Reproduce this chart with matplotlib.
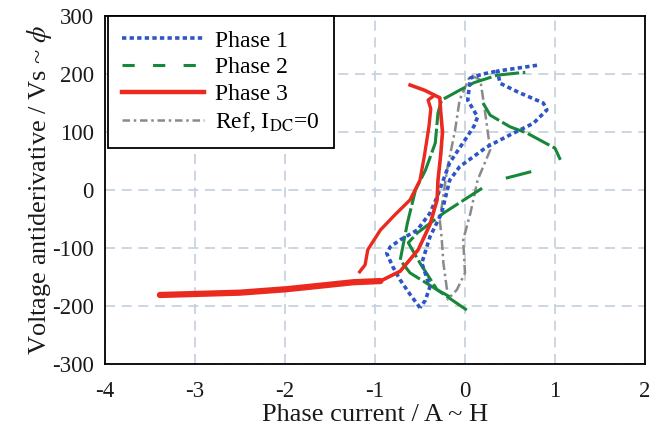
import matplotlib.pyplot as plt
from matplotlib.lines import Line2D

plt.rcParams['font.family'] = ['Liberation Serif', 'DejaVu Serif']
plt.rcParams['mathtext.fontset'] = 'stix'
plt.rcParams['axes.unicode_minus'] = False

# Phase 1 (blue, dotted) - two strands of the loop
p1_a_x = [0.8, 0.58, 0.36, 0.39, 0.6, 0.87, 0.91, 0.76, 0.5, 0.24, -0.06, -0.17, -0.26, -0.39, -0.48, -0.39, -0.44, -0.5]
p1_a_y = [215, 210, 205, 184, 168, 150, 138, 115, 95, 74, 40, 17, -40, -81, -126, -167, -190, -203]
p1_b_x = [-0.5, -0.61, -0.72, -0.8, -0.87, -0.83, -0.72, -0.53, -0.39, -0.31, -0.17, 0.02, 0.1, 0.14, 0.03, 0.06, 0.2, 0.36]
p1_b_y = [-203, -180, -155, -133, -109, -98, -86, -69, -40, -12, 47, 91, 110, 126, 155, 193, 200, 205]

# Phase 2 (green, dashed)
p2_a_x = [0.02, -0.31, -0.61, -0.72, -0.64, -0.55, -0.44, -0.33, -0.3, -0.26, -0.06, 0.1, 0.36, 0.67]
p2_a_y = [-207, -172, -143, -121, -57, 0, 34, 81, 133, 155, 172, 185, 198, 203]
p2_b_x = [0.2, 0.28, 0.5, 0.69, 1.0, 1.06]
p2_b_y = [150, 129, 109, 98, 72, 52]
p2_c_x = [0.19, -0.24, -0.53, -0.63, -0.5, -0.31, -0.17]
p2_c_y = [3, -40, -74, -91, -126, -172, -184]
p2_d_x = [0.47, 0.72]
p2_d_y = [21, 31]

# Phase 3 (red, solid)
p3_tail_x = [-3.39, -2.5, -1.98, -1.24, -0.94]
p3_tail_y = [-181, -177, -171, -159, -157]
p3_a_x = [-0.94, -0.72, -0.52, -0.39, -0.31, -0.3, -0.27, -0.25, -0.27, -0.28, -0.45, -0.61]
p3_a_y = [-157, -140, -103, -60, -17, 17, 60, 100, 135, 159, 172, 181]
p3_b_x = [-1.17, -1.11, -1.08, -0.94, -0.78, -0.61, -0.5, -0.45, -0.4, -0.38, -0.41, -0.35]
p3_b_y = [-141, -129, -103, -69, -43, -17, 17, 60, 110, 140, 155, 162]

# Ref, I_DC = 0 (gray, dash-dot)
ref_x = [-0.2, -0.24, -0.26, -0.28, -0.2, -0.11, -0.06, 0.06, 0.17, 0.22, 0.28, 0.14, 0.06, -0.02, 0.0, -0.09, -0.2]
ref_y = [-172, -126, -81, -52, 34, 103, 155, 198, 190, 138, 69, 17, -40, -86, -143, -172, -190]

blue = '#2d55c6'
green = '#17873a'
red = '#ea2a1f'
gray = '#8a8a8a'

fig = plt.figure(figsize=(6.62, 4.26), dpi=100)
ax = fig.add_axes([0.1586, 0.1455, 0.8157, 0.817])

ax.plot(ref_x, ref_y, color=gray, lw=1.8, ls=(0, (4, 1.5, 1, 1.5)), zorder=3)
ax.plot(p1_a_x, p1_a_y, color=blue, lw=2.6, ls=(0, (1.2, 0.9)), zorder=4)
ax.plot(p1_b_x, p1_b_y, color=blue, lw=2.6, ls=(0, (1.2, 0.9)), zorder=4)
ax.plot(p2_a_x, p2_a_y, color=green, lw=2.2, ls=(0, (8, 1.2)), zorder=3)
ax.plot(p2_b_x, p2_b_y, color=green, lw=2.2, ls=(0, (8, 1.2)), zorder=3)
ax.plot(p2_c_x, p2_c_y, color=green, lw=2.2, ls=(0, (8, 1.2)), zorder=3)
ax.plot(p2_d_x, p2_d_y, color=green, lw=2.2, zorder=3)
ax.plot(p3_tail_x, p3_tail_y, color=red, lw=4.5, solid_capstyle='round', zorder=5)
ax.plot(p3_a_x, p3_a_y, color=red, lw=2.6, solid_joinstyle='round', zorder=5)
ax.plot(p3_b_x, p3_b_y, color=red, lw=2.4, solid_joinstyle='round', zorder=5)

ax.set_xlim(-4, 2)
ax.set_ylim(-300, 300)
ax.set_xticks(range(-4, 3))
ax.set_yticks(range(-300, 301, 100))
ax.grid(True, color='#c3d0dc', ls=(0, (6, 4)), lw=1.2)
ax.tick_params(axis='x', labelsize=16.5, direction='in', length=0, pad=12, labelcolor='#1a1a1a')
ax.tick_params(axis='y', labelsize=16.5, direction='in', length=0, pad=8, labelcolor='#1a1a1a')
for s in ax.spines.values():
    s.set_linewidth(1.3)

ax.set_xlabel('Phase current / A ~ H', fontsize=19, labelpad=1.5, color='#1a1a1a')
ax.set_ylabel('Voltage antiderivative / Vs ~ $\\phi$', fontsize=19, labelpad=-1.5, color='#1a1a1a')

handles = [
    Line2D([], [], color=blue, lw=2.6, ls=(0, (1.2, 0.9))),
    Line2D([], [], color=green, lw=2.2, ls=(0, (4, 6))),
    Line2D([], [], color=red, lw=3.2),
    Line2D([], [], color=gray, lw=1.8, ls=(0, (3, 1.5, 1, 1.5))),
]
labels = ['Phase 1', 'Phase 2', 'Phase 3', 'Ref, I$_{\\mathrm{DC}}$=0']
leg = ax.legend(handles, labels, loc='upper left', fontsize=17, fancybox=False,
                framealpha=1, edgecolor='black', borderaxespad=0.0,
                bbox_to_anchor=(0.005, 1.0),
                handlelength=3.5, handletextpad=0.45, labelspacing=0.22, borderpad=0.6)
leg.get_frame().set_linewidth(1.3)

fig.savefig('out.png', dpi=100)
